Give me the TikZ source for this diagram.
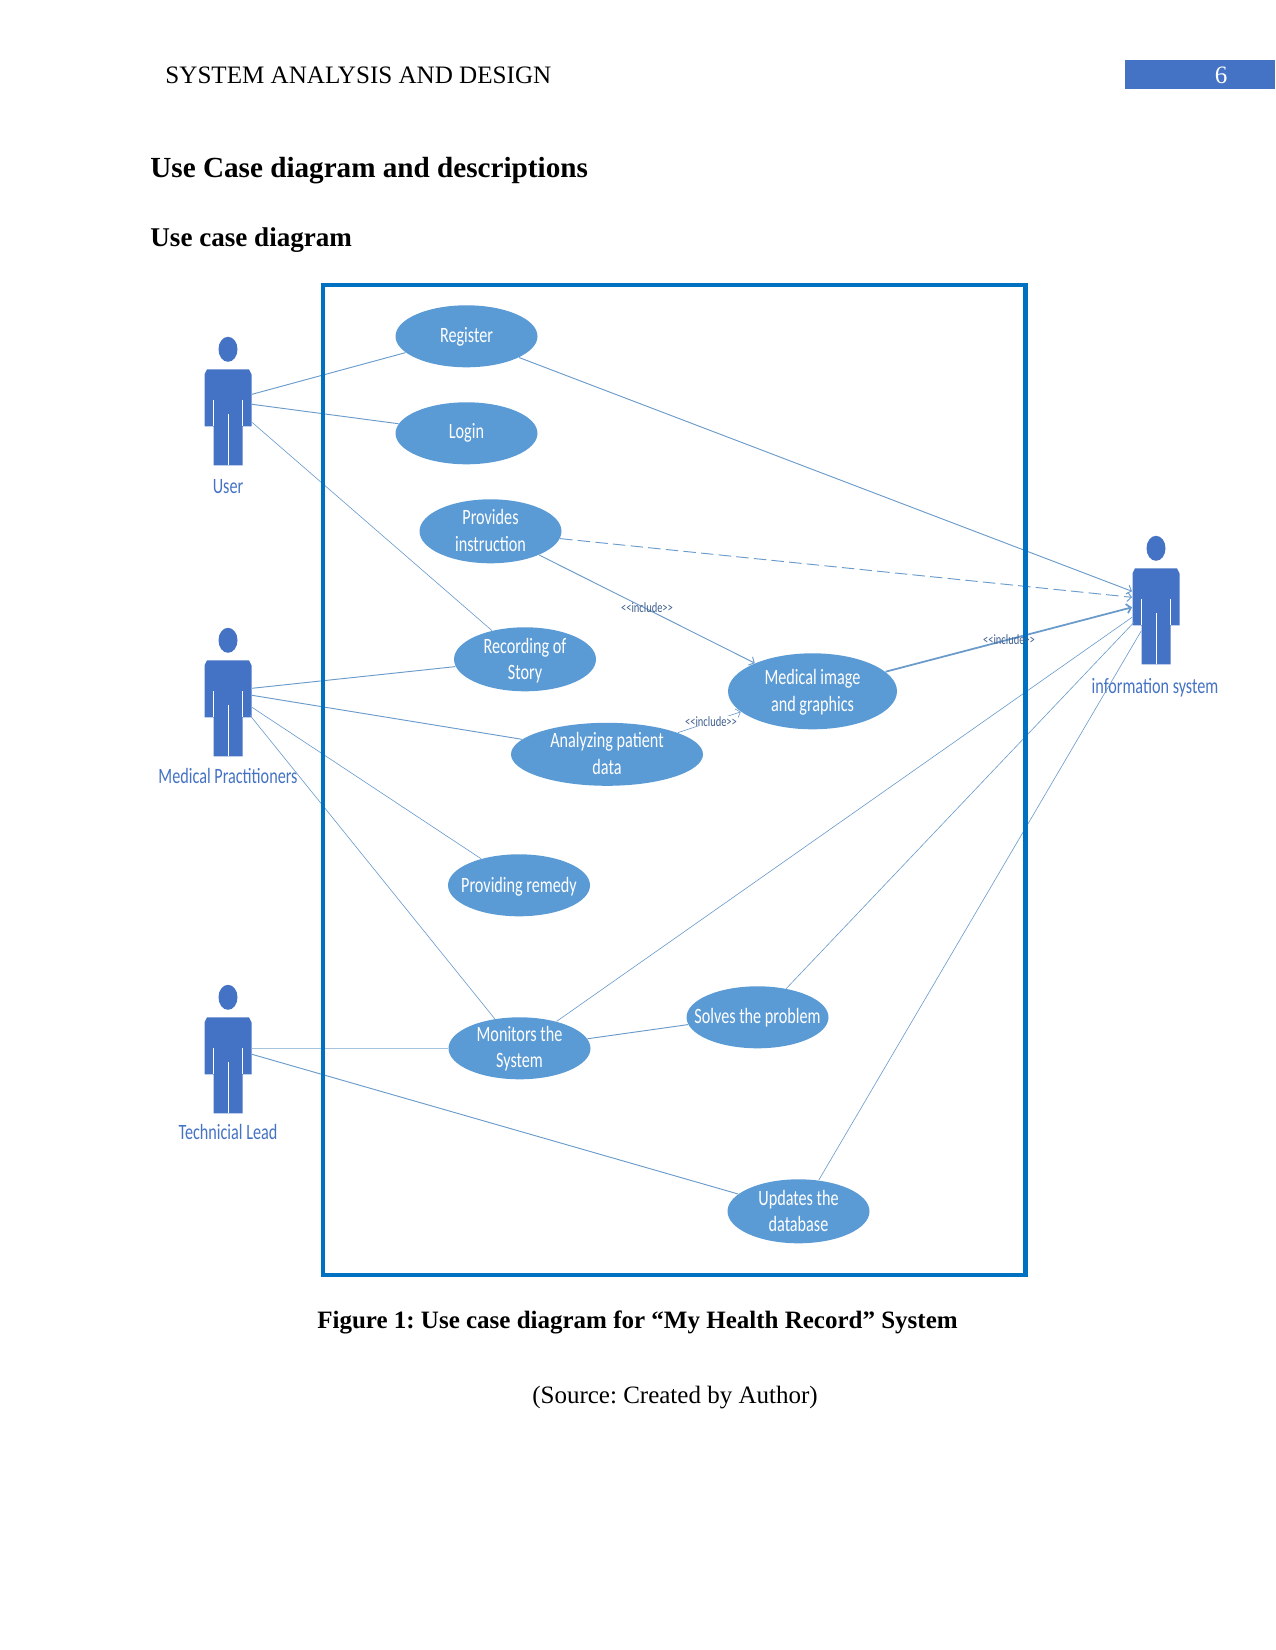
\documentclass[tikz,border=0pt]{standalone}
\usepackage{fontspec}
\setmainfont{Liberation Serif}
\newfontfamily\diafont[FakeStretch=0.74]{Carlito}
\usetikzlibrary{shapes.geometric,arrows.meta}
\definecolor{ucfill}{HTML}{5B9BD5}
\definecolor{framec}{HTML}{0070C0}
\definecolor{actorc}{HTML}{4472C4}
\definecolor{linkc}{HTML}{6A9BCB}
\definecolor{inclc}{HTML}{3F5F8F}
\tikzset{
  usecase/.style={ellipse,fill=ucfill,inner sep=0pt,minimum width=142*0.48pt,minimum height=62*0.48pt},
  uctext/.style={text=white,font=\diafont\fontsize{10.5}{12.6}\selectfont,align=center,inner sep=0pt},
  actorlabel/.style={text=actorc,font=\diafont\fontsize{10.5}{12.6}\selectfont,inner sep=0pt},
  link/.style={draw=linkc,line width=0.45pt},
  thinlink/.style={draw=linkc,line width=0.3pt},
  boldlink/.style={draw=linkc,line width=0.85pt},
  openend/.style={-{Straight Barb[length=2pt,width=4.5pt]}},
  incl/.style={text=inclc,font=\diafont\fontsize{6.8}{8}\selectfont,inner sep=0pt},
  headtext/.style={inner sep=0pt,anchor=base west},
}
% \umlactor{centre x}{body top y}
\newcommand{\umlactor}[2]{%
  \fill[actorc] (#1,#2-20) ellipse [x radius=9.5,y radius=12.5];
  \fill[actorc] (#1-21,#2) -- (#1+21,#2) -- (#1+23.5,#2+5) -- (#1+23.5,#2+57) -- (#1+14.5,#2+57)
     -- (#1+14.5,#2+96) -- (#1-14.5,#2+96) -- (#1-14.5,#2+57) -- (#1-23.5,#2+57) -- (#1-23.5,#2+5) -- cycle;
  \draw[white,line width=0.4pt] (#1-14.5,#2+31) -- (#1-14.5,#2+57) (#1+14.5,#2+31) -- (#1+14.5,#2+57) (#1,#2+45) -- (#1,#2+96);
}
\begin{document}
\frenchspacing
\begin{tikzpicture}[x=0.48pt,y=-0.48pt]
\useasboundingbox (0,-0.3) rectangle (1275,1649.7);

% page furniture
\node[headtext,font=\fontsize{12.05}{14}\selectfont] (hdr) at (165,83) {SYSTEM ANALYSIS AND DESIGN};
\fill[actorc] (1125,60) rectangle (1275,89);
\node[text=white,inner sep=0pt,font=\fontsize{12}{14}\selectfont] (pg) at (1221,75) {6};
\node[headtext,font=\bfseries\fontsize{14}{16}\selectfont] (h1) at (150,177) {Use Case diagram and descriptions};
\node[headtext,font=\bfseries\fontsize{13}{15}\selectfont] (h2) at (150,246) {Use case diagram};

% actors
\umlactor{228}{369}
\umlactor{228}{660}
\umlactor{228}{1017}
\umlactor{1156}{568}
\node[actorlabel] (lu) at (228,486) {User};
\node[actorlabel] (lm) at (228,776) {Medical Practitioners};
\node[actorlabel] (lt) at (228,1132) {Technicial Lead};
\node[actorlabel] (li) at (1155,687) {information system};

% attachment points on the actors
\coordinate (ua) at (252,394);
\coordinate (ub) at (252,404);
\coordinate (uc) at (252,422);
\coordinate (ma) at (252,688);
\coordinate (mb) at (252,695);
\coordinate (mc) at (252,707);
\coordinate (md) at (250,715);
\coordinate (ta) at (252,1048);
\coordinate (tb) at (252,1054);
\coordinate (ia) at (1132,591);
\coordinate (ib) at (1132,597);
\coordinate (ic) at (1132,607);
\coordinate (id) at (1132,617);
\coordinate (ie) at (1134,622);
\coordinate (if) at (1141,631);

% use cases
\node[usecase,label={[uctext,yshift=-0.5pt]center:Register}] (reg) at (466.5,336) {};
\node[usecase,label={[uctext]center:Login}] (log) at (466.5,433) {};
\node[usecase,minimum height=64*0.48pt,label={[uctext,yshift=0.4pt]center:{Provides\\instruction}}] (pro) at (490.5,531) {};
\node[usecase,minimum height=64*0.48pt,label={[uctext,yshift=-0.6pt]center:{Recording of\\Story}}] (rec) at (525,659) {};
\node[usecase,minimum width=169*0.48pt,minimum height=76*0.48pt,label={[uctext,yshift=-0.5pt]center:{Medical image\\and graphics}}] (med) at (812.5,691) {};
\node[usecase,minimum width=192*0.48pt,minimum height=63*0.48pt,label={[uctext,yshift=0.4pt]center:{Analyzing patient\\data}}] (ana) at (607,754) {};
\node[usecase,label={[uctext,yshift=-0.5pt]center:Providing remedy}] (rem) at (519,885) {};
\node[usecase,label={[uctext,yshift=-0.2pt]center:{Monitors the\\System}}] (mon) at (519.5,1048) {};
\node[usecase,label={[uctext]center:Solves the problem}] (sol) at (757.5,1017) {};
\node[usecase,minimum height=64*0.48pt,label={[uctext,yshift=0.2pt]center:{Updates the\\database}}] (upd) at (798.5,1211) {};

% connectors
\draw[link] (ua) -- (reg.195.5);
\draw[link] (ub) -- (log.172);
\draw[thinlink] (uc) -- (rec.139);
\draw[link] (ma) -- (rec.186.5);
\draw[link] (mb) -- (ana.170);
\draw[thinlink] (mc) -- (rem.145);
\draw[thinlink] (md) -- (mon.130);
\draw[draw=linkc!60,line width=0.6pt] (ta) -- (mon.west);
\draw[link] (tb) -- (upd.164);
\draw[link] (mon.8) -- (sol.186.5);
\draw[link,openend] (reg.-22) -- (ia);
\draw[link,openend,dashed,dash pattern=on 6pt off 2.5pt] (pro.-6.5) -- (ib);
\draw[boldlink,openend] (med.15) -- (ic);
\draw[thinlink] (mon.36) -- (id);
\draw[thinlink] (sol.45.5) -- (ie);
\draw[thinlink] (upd.57) -- (if);
\draw[link,openend] (pro.-26) -- (med.154);
\draw[thinlink,openend] (ana.17) -- (med.196.6);

% system boundary
\draw[framec,line width=2pt] (323,285) rectangle (1025.5,1275);

% include labels
\node[incl] (i1) at (647,607) {<<include>>};
\node[incl,fill=white,inner xsep=0.5pt] (i2) at (711,721) {<<include>>};
\node[incl] (i3) at (1009,639) {<<include>>};

% caption
\node[inner sep=0pt,font=\bfseries\fontsize{12}{14}\selectfont] (cap) at (637.5,1322) {Figure 1: Use case diagram for “My Health Record” System};
\node[inner sep=0pt,font=\fontsize{12}{14}\selectfont] (src) at (675,1397) {(Source: Created by Author)};
\end{tikzpicture}
\end{document}
